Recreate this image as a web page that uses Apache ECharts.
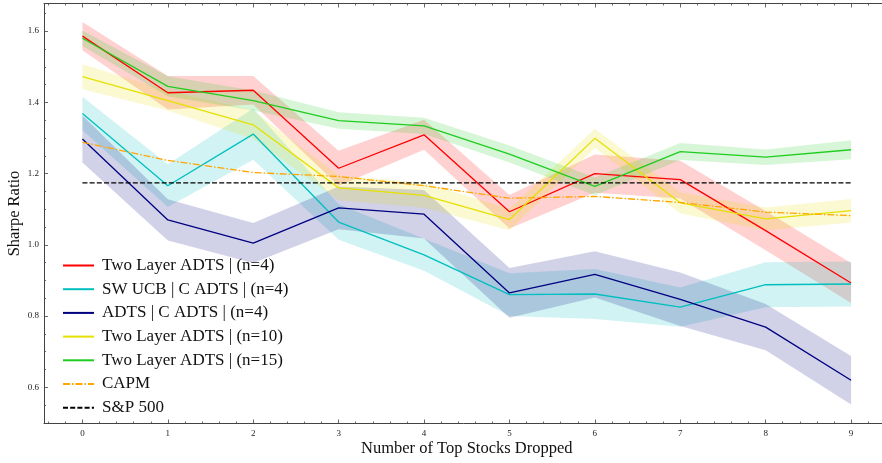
<!DOCTYPE html>
<html>
<head>
<meta charset="utf-8">
<script src="https://cdn.jsdelivr.net/npm/echarts@6/dist/echarts.min.js"></script>
<style>
  html, body { margin: 0; padding: 0; background: #fff; }
  #chart { width: 882px; height: 463px; }
</style>
</head>
<body>
<div id="chart"></div>
<script>
// Number of top stocks dropped from the universe
const dropped = [0, 1, 2, 3, 4, 5, 6, 7, 8, 9];

// Mean Sharpe ratio per strategy, and half-width of its shaded band
const twoLayer4      = [1.586, 1.427, 1.434, 1.215, 1.309, 1.093, 1.200, 1.183, 1.040, 0.893];
const twoLayer4Band  = [0.040, 0.047, 0.040, 0.049, 0.042, 0.047, 0.054, 0.053, 0.055, 0.056];

const swUcb4         = [1.369, 1.166, 1.311, 1.064, 0.972, 0.860, 0.862, 0.825, 0.888, 0.890];
const swUcb4Band     = [0.047, 0.060, 0.072, 0.050, 0.045, 0.060, 0.070, 0.055, 0.063, 0.063];

const adts4          = [1.297, 1.070, 1.005, 1.104, 1.086, 0.865, 0.917, 0.847, 0.769, 0.620];
const adts4Band      = [0.066, 0.058, 0.056, 0.060, 0.068, 0.070, 0.065, 0.075, 0.065, 0.068];

const twoLayer10     = [1.472, 1.405, 1.337, 1.160, 1.139, 1.071, 1.299, 1.118, 1.073, 1.096];
const twoLayer10Band = [0.035, 0.028, 0.040, 0.035, 0.035, 0.030, 0.027, 0.030, 0.032, 0.033];

const twoLayer15     = [1.580, 1.445, 1.405, 1.349, 1.334, 1.255, 1.164, 1.262, 1.246, 1.267];
const twoLayer15Band = [0.022, 0.028, 0.028, 0.023, 0.023, 0.024, 0.025, 0.024, 0.022, 0.027];

const capm           = [1.288, 1.237, 1.203, 1.192, 1.166, 1.131, 1.136, 1.119, 1.092, 1.082];
const sp500          = [1.174, 1.174, 1.174, 1.174, 1.174, 1.174, 1.174, 1.174, 1.174, 1.174];

// Tick positions
const xMajorTicks = [0, 1, 2, 3, 4, 5, 6, 7, 8, 9];
const yMajorTicks = [0.6, 0.8, 1.0, 1.2, 1.4, 1.6];

const serif = '"Liberation Serif", "DejaVu Serif", serif';
const frameColor = '#444';

const xMinor = [];
for (let v = -0.4; v <= 9.45; v += 0.2) {
  const r = Math.round(v * 10) / 10;
  if (Math.abs(r - Math.round(r)) > 1e-6) xMinor.push(r);
}
const yMinor = [];
for (let v = 0.5; v <= 1.676; v += 0.05) {
  const r = Math.round(v * 100) / 100;
  if (Math.abs(r * 5 - Math.round(r * 5)) > 1e-6) yMinor.push(r);
}

const pairs = ys => dropped.map((x, i) => [x, ys[i]]);

function bandSeries(mean, half, color) {
  return {
    type: 'custom',
    xAxisIndex: 0,
    yAxisIndex: 0,
    silent: true,
    z: 1,
    data: [[0, mean[0]]],
    renderItem: function (params, api) {
      const upper = dropped.map((x, i) => api.coord([x, mean[i] + half[i]]));
      const lower = dropped.map((x, i) => api.coord([x, mean[i] - half[i]])).reverse();
      return {
        type: 'polygon',
        shape: { points: upper.concat(lower) },
        style: { fill: color, opacity: 0.18, stroke: null }
      };
    }
  };
}

function lineSeries(name, ys, color, type) {
  return {
    name: name,
    type: 'line',
    xAxisIndex: 0,
    yAxisIndex: 0,
    data: pairs(ys),
    symbol: 'none',
    z: 3,
    animation: false,
    lineStyle: { color: color, width: 1.3, type: type || 'solid' },
    itemStyle: { color: color }
  };
}

const C = {
  red: '#ff0000',
  cyan: '#00bfbf',
  navy: '#000080',
  yellow: '#e6e000',
  green: '#1fcc1f',
  orange: '#ffa500'
};

const names = [
  'Two Layer ADTS | (n=4)',
  'SW UCB | C ADTS | (n=4)',
  'ADTS | C ADTS | (n=4)',
  'Two Layer ADTS | (n=10)',
  'Two Layer ADTS | (n=15)',
  'CAPM',
  'S&P 500'
];

const xRange = { min: -0.45, max: 9.45 };
const yRange = { min: 0.4984, max: 1.6776 };

function xAxisDef(pos, ticks, len, labels, line) {
  return Object.assign({
    type: 'value',
    position: pos,
    splitLine: { show: false },
    axisLine: { show: line, onZero: false, lineStyle: { color: frameColor, width: 1 } },
    axisTick: { show: true, inside: true, length: len, customValues: ticks, lineStyle: { color: frameColor, width: 0.8 } },
    axisLabel: labels
      ? { show: true, customValues: ticks, margin: 6, color: '#222', fontFamily: serif, fontSize: 9 }
      : { show: false }
  }, xRange);
}

function yAxisDef(ticks, len, labels, line) {
  return Object.assign({
    type: 'value',
    position: 'left',
    splitLine: { show: false },
    axisLine: { show: line, onZero: false, lineStyle: { color: frameColor, width: 1 } },
    axisTick: { show: true, inside: true, length: len, customValues: ticks, lineStyle: { color: frameColor, width: 0.8 } },
    axisLabel: labels
      ? { show: true, customValues: ticks, margin: 5, color: '#222', fontFamily: serif, fontSize: 9,
          formatter: v => v.toFixed(1) }
      : { show: false }
  }, yRange);
}

const xMain = xAxisDef('bottom', xMajorTicks, 4, true, true);
xMain.name = 'Number of Top Stocks Dropped';
xMain.nameLocation = 'middle';
xMain.nameGap = 17;
xMain.nameMoveOverlap = false;
xMain.nameTextStyle = { fontFamily: serif, fontSize: 16.5, color: '#111' };

const yMain = yAxisDef(yMajorTicks, 4, true, true);
yMain.name = 'Sharpe Ratio';
yMain.nameLocation = 'middle';
yMain.nameGap = 21;
yMain.nameMoveOverlap = false;
yMain.nameTextStyle = { fontFamily: serif, fontSize: 16.5, color: '#111' };

const option = {
  animation: false,
  backgroundColor: '#fff',
  grid: { left: 44, top: 3.5, width: 845.5, height: 420, containLabel: false, outerBoundsMode: 'none' },
  xAxis: [
    xMain,
    xAxisDef('bottom', xMinor, 2, false, false),
    xAxisDef('top', xMajorTicks, 4, false, true),
    xAxisDef('top', xMinor, 2, false, false)
  ],
  yAxis: [
    yMain,
    yAxisDef(yMinor, 2, false, false)
  ],
  legend: {
    data: names,
    orient: 'vertical',
    left: 57,
    top: 252,
    itemWidth: 31,
    itemHeight: 16,
    itemGap: 6.7,
    itemStyle: { opacity: 0 },
    textStyle: { fontFamily: serif, fontSize: 17, color: '#111', lineHeight: 16, padding: [0, 0, 0, 3] },
    selectedMode: false
  },
  series: [
    bandSeries(twoLayer4, twoLayer4Band, C.red),
    bandSeries(swUcb4, swUcb4Band, C.cyan),
    bandSeries(adts4, adts4Band, C.navy),
    bandSeries(twoLayer10, twoLayer10Band, C.yellow),
    bandSeries(twoLayer15, twoLayer15Band, C.green),
    lineSeries(names[0], twoLayer4, C.red),
    lineSeries(names[1], swUcb4, C.cyan),
    lineSeries(names[2], adts4, C.navy),
    lineSeries(names[3], twoLayer10, C.yellow),
    lineSeries(names[4], twoLayer15, C.green),
    lineSeries(names[5], capm, C.orange, [7, 2, 1.5, 2]),
    lineSeries(names[6], sp500, '#000000', [5, 2.2])
  ]
};

const chart = echarts.init(document.getElementById('chart'), null, { renderer: 'canvas' });
chart.setOption(option);
</script>
</body>
</html>
